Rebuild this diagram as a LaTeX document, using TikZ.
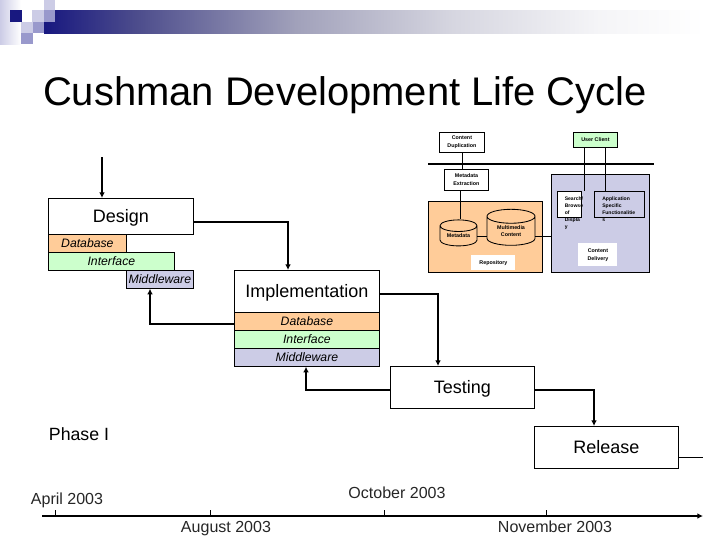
\documentclass[tikz,border=0pt]{standalone}
\usepackage{fontspec}
\setmainfont{Liberation Sans}
\usetikzlibrary{arrows.meta,shapes.geometric}
\definecolor{navy}{RGB}{24,24,128}
\definecolor{lav}{RGB}{204,204,230}
\definecolor{midlav}{RGB}{153,153,204}
\definecolor{peach}{RGB}{255,204,153}
\definecolor{mint}{RGB}{204,255,204}
\pgfdeclarehorizontalshading{barfade}{100bp}{
  rgb(0bp)=(0.094,0.094,0.5);
  rgb(25bp)=(0.094,0.094,0.5);
  rgb(32bp)=(0.3,0.3,0.55);
  rgb(44bp)=(0.63,0.63,0.73);
  rgb(56bp)=(0.84,0.84,0.88);
  rgb(67bp)=(0.96,0.96,0.97);
  rgb(75bp)=(1,1,1);
  rgb(100bp)=(1,1,1)}
\tikzset{
  phasebox/.style={draw,line width=0.6pt,fill=white,anchor=north west,inner sep=0pt,text height=9pt,text depth=0pt,font=\fontsize{12.8}{14}\selectfont},
  layer/.style={draw,line width=0.5pt,anchor=north west,inner sep=0pt,font=\fontsize{8.7}{10}\selectfont\itshape},
  tinybox/.style={draw,line width=0.6pt,fill=white,anchor=north west,inner sep=0pt,align=center,font=\fontsize{3.8}{5.7}\selectfont\bfseries},
  tinytext/.style={align=left,anchor=north west,inner sep=0pt,font=\fontsize{3.6}{5}\selectfont\bfseries},
  store/.style={draw,line width=0.6pt,cylinder,shape border rotate=90,aspect=0.5,inner sep=0pt,align=center,font=\fontsize{3.8}{5.2}\selectfont\bfseries},
  flow/.style={line width=1pt,-{Latex[length=4pt,width=4pt]}},
  plain/.style={line width=0.6pt},
  date/.style={anchor=base,font=\fontsize{11.4}{12}\selectfont,text=black!85}
}
\begin{document}
\begin{tikzpicture}[x=0.025cm,y=-0.025cm]
    \useasboundingbox (0,0) rectangle (720,540);
    % header
    \fill[shading=barfade] (44,10) rectangle (705,33);
    \fill[left color=lav,right color=white] (0,0) rectangle (21,44);
    \fill[navy] (10,10) rectangle (22,22);
    \fill[lav] (32,10) rectangle (44,22);
    \fill[lav] (44,0) rectangle (55,10);
    \fill[midlav] (44,10) rectangle (55,22);
    \fill[lav] (21,22) rectangle (33,33);
    \fill[midlav] (33,22) rectangle (44,33);
    \fill[midlav] (21,33) rectangle (33,44);
    \node (title) at (345,95) {\fontsize{28.4}{30}\selectfont Cushman Development Life Cycle};
    % architecture
    \draw[line width=1.4pt] (428,164) coordinate (busl) -- (654,164) coordinate (busr);
    \node[tinybox,fill=peach,minimum width=2.85cm,minimum height=1.775cm] (repo) at (428,201) {};
    \node[tinybox,fill=lav,minimum width=2.45cm,minimum height=2.45cm] (deliv) at (551,174) {};
    \node[tinybox,minimum width=1.125cm,minimum height=0.5cm] (dup) at (439,132) {Content\\Duplication};
    \node[tinybox,fill=mint,minimum width=1.1cm,minimum height=0.375cm] (client) at (573,132) {User Client};
    \node[tinybox,minimum width=1.1cm,minimum height=0.525cm] (extr) at (444,169) {Metadata\\Extraction};
    \node[store,fill=peach,minimum width=0.925cm,minimum height=0.65cm] (meta) at (458.5,236) {Metadata};
    \node[store,fill=peach,minimum width=1.2cm,minimum height=0.9cm] (media) at (511,231) {Multimedia\\Content};
    \node[tinybox,draw=none,minimum width=1.1cm,minimum height=0.375cm] (repolabel) at (471,255) {Repository};
    \node[tinybox,minimum width=0.6cm,minimum height=0.65cm] (search) at (557,191) {};
    \node[tinybox,fill=lav,minimum width=1.25cm,minimum height=0.65cm] (func) at (594,191) {};
    \node[tinytext] (searchtxt) at (564.5,196.5) {Search/\\Browse\\of\\Displa\\y};
    \node[tinytext] (functxt) at (602,196.5) {Application\\Specific\\Functionalitie\\s};
    \node[tinybox,draw=none,minimum width=0.975cm,minimum height=0.575cm] (delivlabel) at (578,243) {Content\\Delivery};
    \draw[plain] (dup.south) -- (dup.south|-extr.north);
    \draw[plain] (460,0|-extr.south) -- (460,0|-meta.north);
    \draw[plain] (meta.east) -- (meta.east-|media.west);
    \draw[plain] (media.east|-meta.east) -- (meta.east-|deliv.west);
    \draw[plain] (584,0|-client.south) -- (584,0|-search.north);
    \draw[plain] (605,0|-client.south) -- (605,0|-func.north);
    % phases
    \node[phasebox,minimum width=3.625cm,minimum height=0.9cm] (design) at (48,198) {Design};
    \node[layer,fill=peach,minimum width=1.95cm,minimum height=0.45cm] (ddb) at (48,234) {Database};
    \node[layer,fill=mint,minimum width=3.15cm,minimum height=0.45cm] (dif) at (48,252) {Interface};
    \node[layer,fill=lav,minimum width=1.675cm,minimum height=0.45cm] (dmw) at (126,270) {Middleware};
    \node[phasebox,minimum width=3.625cm,minimum height=1.05cm] (impl) at (234,270) {Implementation};
    \node[layer,fill=peach,minimum width=3.625cm,minimum height=0.45cm] (idb) at (234,312) {Database};
    \node[layer,fill=mint,minimum width=3.625cm,minimum height=0.45cm] (iif) at (234,330) {Interface};
    \node[layer,fill=lav,minimum width=3.625cm,minimum height=0.45cm] (imw) at (234,348) {Middleware};
    \node[phasebox,minimum width=3.6cm,minimum height=1.05cm] (test) at (390,366) {Testing};
    \node[phasebox,minimum width=3.6cm,minimum height=1.05cm] (rel) at (534,426) {Release};
    \coordinate (start) at (102,157);
    \coordinate (relend) at (703,457);
    \draw[flow] (start) -- (start|-design.north);
    \draw[flow] (design.east|-0,222) -| (288,0|-impl.north);
    \draw[flow] (impl.west|-0,324) -| (150,0|-dmw.south);
    \draw[flow] (impl.east|-0,294) -| (438,0|-test.north);
    \draw[flow] (test.west|-0,390) -| (306,0|-imw.south);
    \draw[flow] (test.east|-0,390) -| (594,0|-rel.north);
    \draw[plain] (rel.east|-relend) -- (relend);
    % timeline
    \node[font=\fontsize{12.6}{14}\selectfont] (phase) at (79,434) {Phase I};
    \coordinate (tl) at (42,516);
    \coordinate (tr) at (703,516);
    \draw[line width=1.3pt,-{Latex[length=4pt,width=4pt]}] (tl) -- (tr);
    \foreach \x in {55,210,384,546} {
        \draw[plain] (\x,510) -- (\x,516);
    }
    \node[date] (apr) at (67,504) {April 2003};
    \node[date] (aug) at (226,532) {August 2003};
    \node[date] (oct) at (397,498) {October 2003};
    \node[date] (nov) at (555,532) {November 2003};
\end{tikzpicture}
\end{document}
